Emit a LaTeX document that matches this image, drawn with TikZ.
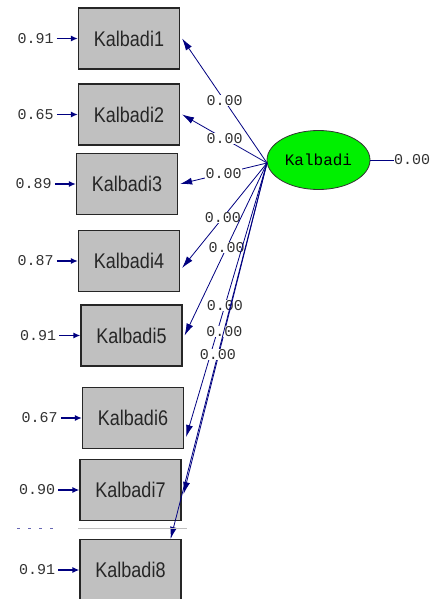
\documentclass[tikz,border=0pt]{standalone}
\usepackage{fontspec}
\setmainfont{Liberation Sans}
\newfontfamily\labfont{Liberation Mono}
\usetikzlibrary{arrows.meta}
\definecolor{pathblue}{RGB}{0,0,128}
\definecolor{boxgray}{RGB}{192,192,192}
\definecolor{ellgreen}{RGB}{0,240,0}
\definecolor{labgray}{RGB}{50,50,50}
\tikzset{
  obsbox/.style={draw=black!85, line width=1.2pt, fill=boxgray, minimum width=101pt, minimum height=61pt, inner sep=0pt,
    font=\fontsize{18}{18}\selectfont, text=black!85},
  latent/.style={draw=black!80, line width=0.8pt, fill=ellgreen, ellipse, minimum width=103pt, minimum height=59pt, inner sep=0pt,
    font=\labfont\fontsize{16}{16}\selectfont},
  pathline/.style={draw=pathblue, line width=0.8pt, -{Latex[length=12pt,width=7pt]}},
  errline/.style={draw=pathblue, line width=1.4pt, -{Latex[length=7pt,width=6pt]}},
  coef/.style={font=\labfont\fontsize{15}{15}\selectfont, text=labgray, fill=white, inner sep=0.5pt},
  errlab/.style={font=\labfont\fontsize{15}{15}\selectfont, text=labgray, anchor=east, inner sep=0pt},
}
\usetikzlibrary{shapes.geometric}
\newcommand{\btext}[1]{\scalebox{1}[1.18]{#1}}
\begin{document}
\begin{tikzpicture}[x=1pt,y=-1pt]
\useasboundingbox (0,0) rectangle (434,599);
% observed variables
\node[obsbox] (b1) at (129,38.5) {\btext{Kalbadi1}};
\node[obsbox] (b2) at (129,114.5) {\btext{Kalbadi2}};
\node[obsbox] (b3) at (127,184) {\btext{Kalbadi3}};
\node[obsbox] (b4) at (129,261) {\btext{Kalbadi4}};
\node[obsbox] (b5) at (131.5,335.5) {\btext{Kalbadi5}};
\node[obsbox] (b6) at (133,418) {\btext{Kalbadi6}};
\node[obsbox] (b7) at (130.5,490) {\btext{Kalbadi7}};
\node[obsbox] (b8) at (130.5,570) {\btext{Kalbadi8}};
% latent
\node[latent] (K) at (318.5,160) {Kalbadi};
\coordinate (src) at (267,163);
% right variance
\coordinate (kr) at (394,160);
\draw[draw=pathblue, line width=1pt] (K.east) -- (kr);
\node[font=\labfont\fontsize{15}{15}\selectfont, text=labgray, anchor=west, inner sep=0pt] (kv) at (kr) {0.00};
% paths
\draw[pathline] (src) -- node[coef]{0.00} ([xshift=2pt]b1.east);
\draw[pathline] (src) -- node[coef]{0.00} ([xshift=2pt]b2.east);
\draw[pathline] (src) -- node[coef]{0.00} ([xshift=2pt]b3.east);
\draw[pathline] (src) -- node[coef, pos=0.52]{0.00} ([yshift=-7pt, xshift=2pt]b4.east);
\draw[pathline] (src) -- node[coef, pos=0.49]{0.00} ([xshift=2pt]b5.east);
\draw[pathline] (src) -- node[coef, pos=0.52]{0.00} ([yshift=-19pt, xshift=2pt]b6.east);
\draw[pathline] (src) -- node[coef, pos=0.51]{0.00} ([yshift=-4pt, xshift=2pt]b7.east);
\draw[pathline] (src) -- node[coef, pos=0.51]{0.00} ([xshift=-11pt]b8.north east);
% error terms
\foreach \b/\v in {b1/0.91,b2/0.65,b3/0.89,b4/0.87,b5/0.91,b6/0.67,b7/0.90,b8/0.91}{
  \coordinate (e\b) at ([xshift=-21pt]\b.west);
  \draw[errline] (e\b) -- (\b.west);
  \node[errlab] (l\b) at ([xshift=-3pt]e\b) {\v};
}
% faint artefact line
\coordinate (a1) at (17,528);
\coordinate (a2) at (53,528);
\coordinate (a3) at (78,528);
\coordinate (a4) at (187,528);
\draw[pathblue!60, line width=0.8pt, dash pattern=on 3pt off 8pt] (a1) -- (a2);
\draw[black!25, line width=0.8pt] (a3) -- (a4);
\end{tikzpicture}
\end{document}
